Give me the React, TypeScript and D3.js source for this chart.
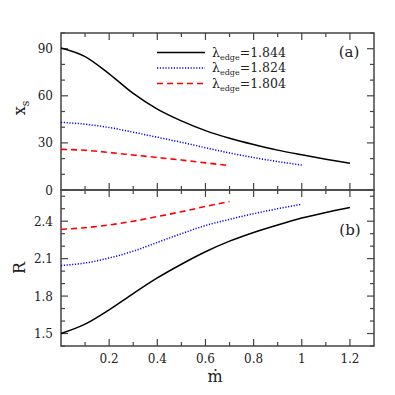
import React from 'react';
import * as d3 from 'd3';

// mdot grid for each curve
const mdotBlack = [0, 0.1, 0.2, 0.3, 0.4, 0.5, 0.6, 0.7, 0.8, 0.9, 1.0, 1.1, 1.2];
const mdotBlue = [0, 0.1, 0.2, 0.3, 0.4, 0.5, 0.6, 0.7, 0.8, 0.9, 1.0];
const mdotRed = [0, 0.1, 0.2, 0.3, 0.4, 0.5, 0.6, 0.7];

// panel (a): shock location x_s
const xsBlack = [90.5, 85, 74, 61.5, 51.5, 44, 37.8, 33, 29, 25.4, 22.4, 19.6, 17];
const xsBlue = [43.1, 41.9, 39.8, 36.8, 33.6, 30.4, 26.9, 23.6, 20.7, 18.1, 15.9];
const xsRed = [25.9, 25.3, 23.9, 22.3, 20.7, 19.1, 17.3, 15.5];

// panel (b): compression ratio R
const rBlack = [1.5, 1.575, 1.69, 1.82, 1.945, 2.055, 2.155, 2.24, 2.31, 2.37, 2.425, 2.47, 2.51];
const rBlue = [2.045, 2.065, 2.105, 2.16, 2.23, 2.3, 2.365, 2.415, 2.46, 2.5, 2.535];
const rRed = [2.335, 2.348, 2.37, 2.4, 2.437, 2.476, 2.518, 2.558];

const lambdaLabels = ['1.844', '1.824', '1.804'];
const xTickLabels = ['0.2', '0.4', '0.6', '0.8', '1', '1.2'];
const yTicksA = [0, 30, 60, 90];
const yTicksB = [1.5, 1.8, 2.1, 2.4];

const styles = [
  { color: '#000', dash: 'none', width: 1.5 },
  { color: '#0000ff', dash: '1.2,1.6', width: 1.5 },
  { color: '#ff0000', dash: '6,4', width: 1.6 },
];

const W = 395, H = 395;
const left = 61, right = 374, top = 33, mid = 190, bottom = 346;
const axisColor = '#444';
const font = '"DejaVu Serif", serif';

const x = d3.scaleLinear().domain([0, 1.3]).range([left, right]);
const yA = d3.scaleLinear().domain([0, 100]).range([mid, top]);
const yB = d3.scaleLinear().domain([1.4, 2.65]).range([bottom, mid]);

const major = 7, minor = 4;

function Frame({ y, y0, y1, majors, minors, topTicks }: any) {
  const lines: any[] = [];
  // left/right ticks
  minors.forEach((v: number, i: number) => {
    const len = majors.some((m: number) => Math.abs(m - v) < 1e-9) ? major : minor;
    lines.push(<line key={'l' + i} x1={left} x2={left + len} y1={y(v)} y2={y(v)} />);
    lines.push(<line key={'r' + i} x1={right} x2={right - len} y1={y(v)} y2={y(v)} />);
  });
  // top/bottom ticks
  d3.range(1, 13).forEach((k) => {
    const v = k / 10;
    const len = k % 2 === 0 ? major : minor;
    if (topTicks) lines.push(<line key={'t' + k} x1={x(v)} x2={x(v)} y1={y0} y2={y0 + len} />);
    lines.push(<line key={'b' + k} x1={x(v)} x2={x(v)} y1={y1} y2={y1 - len} />);
  });
  return (
    <g stroke={axisColor} strokeWidth={1.2}>
      <rect x={left} y={y0} width={right - left} height={y1 - y0} fill="none" strokeWidth={1.5} />
      {lines}
    </g>
  );
}

export default function App() {
  const lineA = (xs: number[], ys: number[]) =>
    d3.line<number>().x((d) => x(d)).y((_, i) => yA(ys[i])).curve(d3.curveMonotoneX)(xs) || '';
  const lineB = (xs: number[], ys: number[]) =>
    d3.line<number>().x((d) => x(d)).y((_, i) => yB(ys[i])).curve(d3.curveMonotoneX)(xs) || '';

  const seriesA = [[mdotBlack, xsBlack], [mdotBlue, xsBlue], [mdotRed, xsRed]];
  const seriesB = [[mdotBlack, rBlack], [mdotBlue, rBlue], [mdotRed, rRed]];

  return (
    <svg width={W} height={H} style={{ position: 'absolute', left: 0, top: 0, background: '#fff' }} fontFamily={font}>
      <Frame y={yA} y0={top} y1={mid} majors={yTicksA} minors={d3.range(0, 101, 10)} topTicks={true} />
      <Frame y={yB} y0={mid} y1={bottom} majors={yTicksB} minors={d3.range(14, 27).map((d) => d / 10)} topTicks={true} />

      {seriesA.map(([xs, ys], i) => (
        <path key={'a' + i} d={lineA(xs, ys)} fill="none" stroke={styles[i].color}
          strokeWidth={styles[i].width} strokeDasharray={styles[i].dash} />
      ))}
      {seriesB.map(([xs, ys], i) => (
        <path key={'b' + i} d={lineB(xs, ys)} fill="none" stroke={styles[i].color}
          strokeWidth={styles[i].width} strokeDasharray={styles[i].dash} />
      ))}

      {/* y tick labels */}
      <g fontSize={12} fill="#222" textAnchor="end">
        {yTicksA.map((v) => (
          <text key={'ya' + v} x={53} y={yA(v) + 4.5}>{v}</text>
        ))}
        {yTicksB.map((v) => (
          <text key={'yb' + v} x={53} y={yB(v) + 4.5}>{v.toFixed(1)}</text>
        ))}
      </g>
      {/* x tick labels */}
      <g fontSize={12} fill="#222" textAnchor="middle">
        {xTickLabels.map((t) => (
          <text key={'x' + t} x={x(+t)} y={363}>{t}</text>
        ))}
      </g>

      {/* axis titles */}
      <text x={215} y={382} fontSize={16} textAnchor="middle" fill="#222">ṁ</text>
      <text transform={`translate(25,108) rotate(-90)`} fontSize={16} textAnchor="middle" fill="#222">
        x<tspan fontSize={11} dy={4}>s</tspan>
      </text>
      <text transform={`translate(25,268) rotate(-90)`} fontSize={16} textAnchor="middle" fill="#222">R</text>

      {/* panel labels */}
      <text x={349} y={57} fontSize={15} textAnchor="middle" fill="#222">(a)</text>
      <text x={350} y={235} fontSize={15} textAnchor="middle" fill="#222">(b)</text>

      {/* legend */}
      {lambdaLabels.map((lab, i) => {
        const ly = 52.5 + i * 15.5;
        return (
          <g key={'lg' + i}>
            <line x1={157} x2={205} y1={ly} y2={ly} stroke={styles[i].color}
              strokeWidth={styles[i].width} strokeDasharray={styles[i].dash} />
            <text x={212} y={ly + 4} fontSize={12.5} fill="#222">
              λ<tspan fontSize={8} dy={3}>edge</tspan><tspan dy={-3}>=</tspan>{lab}
            </text>
          </g>
        );
      })}
    </svg>
  );
}
